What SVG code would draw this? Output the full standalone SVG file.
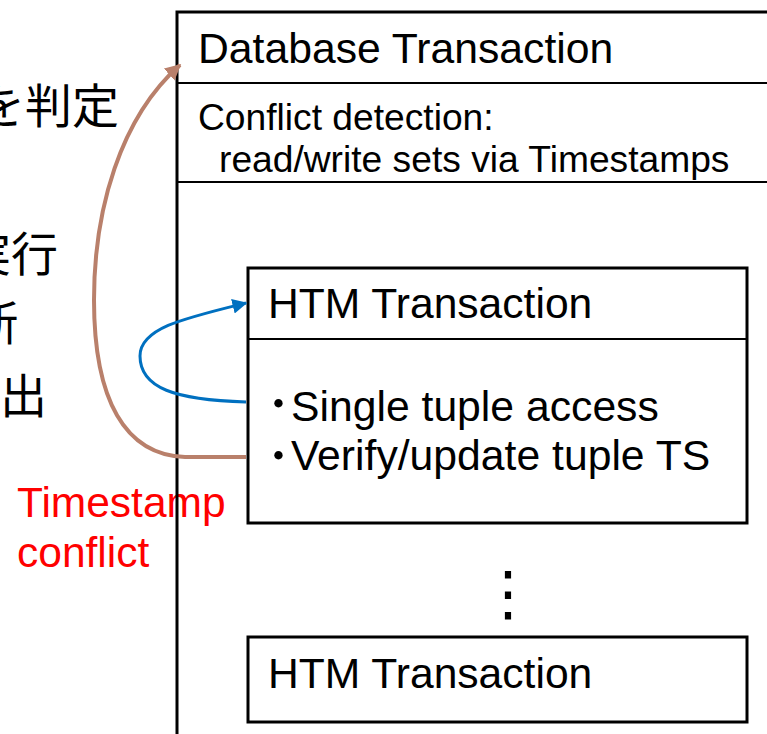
<svg xmlns="http://www.w3.org/2000/svg" width="767" height="734" viewBox="0 0 767 734">
<style>
.lat{font-family:"Liberation Sans",Arial,sans-serif;fill:#000}
.jp{font-family:"Noto Sans CJK JP",sans-serif;font-size:47px;fill:#000}
.bul{font-family:"Noto Sans CJK JP",sans-serif;font-size:50px}
.box{fill:#fff;stroke:#000;stroke-width:3}
.frame{fill:none;stroke:#000;stroke-width:3}
.div{stroke:#000;stroke-width:2}
.red{font-family:"Liberation Sans",Arial,sans-serif;font-size:42.5px;fill:#FF0000}
</style>
<defs>
<marker id="ahBrown" viewBox="0 0 10 10" refX="9" refY="5" markerWidth="4" markerHeight="4" orient="auto" markerUnits="strokeWidth"><path d="M0,0 L10,5 L0,10 z" fill="#B9806B"/></marker>
<marker id="ahBlue" viewBox="0 0 10 10" refX="9" refY="5" markerWidth="5" markerHeight="5" orient="auto" markerUnits="strokeWidth"><path d="M0,0 L10,5 L0,10 z" fill="#0070C0"/></marker>
</defs>
<rect width="767" height="734" fill="#fff"/>
<g id="left-notes">
<text class="jp" x="119" y="123" text-anchor="end">を判定</text>
<text class="jp" x="58" y="271" text-anchor="end">実行</text>
<text class="jp" x="18" y="340" text-anchor="end">断</text>
<text class="jp" x="0" y="413">出</text>
</g>
<g id="timestamp-conflict">
<text class="red" x="17" y="517">Timestamp</text>
<text class="red" x="17" y="567">conflict</text>
</g>
<g id="db-transaction">
<rect class="frame" x="177" y="12" width="640" height="760"/>
<line class="div" x1="177" y1="83" x2="767" y2="83"/>
<line class="div" x1="177" y1="182" x2="767" y2="182"/>
<text class="lat" x="198" y="63" font-size="42.7">Database Transaction</text>
<text class="lat" x="198" y="130" font-size="37.2">Conflict detection:</text>
<text class="lat" x="219" y="172" font-size="37.2">read/write sets via Timestamps</text>
</g>
<g id="htm-1">
<rect class="box" x="248" y="268" width="499" height="255"/>
<line class="div" x1="248" y1="339" x2="747" y2="339"/>
<text class="lat" x="268" y="318" font-size="42.6">HTM Transaction</text>
<text class="bul" x="266" y="422">･</text>
<text class="lat" x="291" y="421" font-size="42.7">Single tuple access</text>
<text class="bul" x="266" y="474">･</text>
<text class="lat" x="291" y="470" font-size="42.7">Verify/update tuple TS</text>
</g>
<g id="ellipsis">
<text x="508" y="614" font-family="DejaVu Sans" font-size="60" text-anchor="middle">⋮</text>
</g>
<g id="htm-2">
<rect class="box" x="248" y="637" width="499" height="85"/>
<text class="lat" x="268" y="688" font-size="42.6">HTM Transaction</text>
</g>
<g id="connectors" fill="none">
<path d="M246,457 L185,457 C125,455 94,400 94,300 C94,210 120,118 180,65" stroke="#B9806B" stroke-width="4" marker-end="url(#ahBrown)"/>
<path d="M246,402 C175,400 140,388 140,356 C140,328 185,318 246,303" stroke="#0070C0" stroke-width="3" marker-end="url(#ahBlue)"/>
</g>
</svg>
